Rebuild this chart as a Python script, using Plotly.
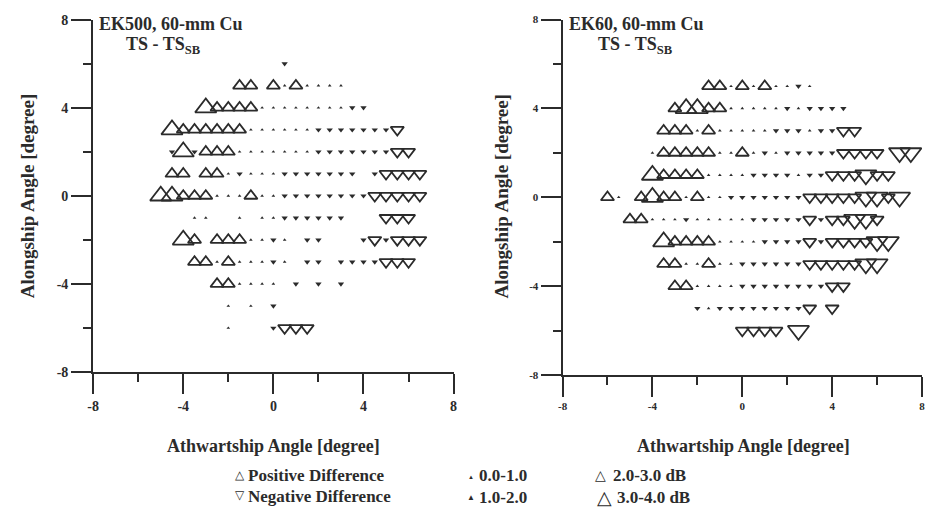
import plotly.graph_objects as go

W, H = 928, 517

# EK500, 60-mm Cu sphere: target position (athwartship x, alongship y, degrees)
# and TS - TS_SB difference (dB), one line per alongship row
ek500_x = [
    0.5,
    -1.5, -1, 0, 0.5, 1, 1.5, 2, 2.5, 3,
    -3, -2.5, -2, -1.5, -1, -0.5, 0, 0.5, 1, 1.5, 2, 2.5, 3, 3.5, 4,
    -4.5, -4, -3.5, -3, -2.5, -2, -1.5, -1, -0.5, 0, 0.5, 1, 1.5, 2, 2.5, 3, 3.5, 4, 4.5, 5, 5.5,
    -4.5, -4, -3.5, -3, -2.5, -2, -1.5, -1, -0.5, 0, 0.5, 1, 1.5, 2, 2.5, 3, 3.5, 4, 4.5, 5, 5.5, 6,
    -4.5, -4, -3, -2.5, -2, -1.5, -1, -0.5, 0, 0.5, 1, 1.5, 2, 2.5, 3, 3.5, 4.5, 5, 5.5, 6, 6.5,
    -5, -4.5, -4, -3.5, -3, -2.5, -2, -1.5, -1, -0.5, 0, 0.5, 1, 1.5, 2, 2.5, 3, 3.5, 4, 4.5, 5, 5.5, 6, 6.5,
    -3.5, -3, -1.5, -0.5, 0, 0.5, 1, 1.5, 2, 2.5, 3, 5, 5.5, 6,
    -4, -3.5, -2.5, -2, -1.5, -1, -0.5, 0, 0.5, 1.5, 2, 4, 4.5, 5, 5.5, 6, 6.5,
    -3.5, -3, -2.5, -2, -1.5, -1, -0.5, 0, 0.5, 1.5, 2, 3, 3.5, 4, 4.5, 5, 5.5, 6,
    -2.5, -2, -1.5, -1, -0.5, 0, 1, 2, 3,
    -2, -1, 0,
    -2, 0, 0.5, 1, 1.5,
]
ek500_y = [
    6,
    5, 5, 5, 5, 5, 5, 5, 5, 5,
    4, 4, 4, 4, 4, 4, 4, 4, 4, 4, 4, 4, 4, 4, 4,
    3, 3, 3, 3, 3, 3, 3, 3, 3, 3, 3, 3, 3, 3, 3, 3, 3, 3, 3, 3, 3,
    2, 2, 2, 2, 2, 2, 2, 2, 2, 2, 2, 2, 2, 2, 2, 2, 2, 2, 2, 2, 2, 2,
    1, 1, 1, 1, 1, 1, 1, 1, 1, 1, 1, 1, 1, 1, 1, 1, 1, 1, 1, 1, 1,
    0, 0, 0, 0, 0, 0, 0, 0, 0, 0, 0, 0, 0, 0, 0, 0, 0, 0, 0, 0, 0, 0, 0, 0,
    -1, -1, -1, -1, -1, -1, -1, -1, -1, -1, -1, -1, -1, -1,
    -2, -2, -2, -2, -2, -2, -2, -2, -2, -2, -2, -2, -2, -2, -2, -2, -2,
    -3, -3, -3, -3, -3, -3, -3, -3, -3, -3, -3, -3, -3, -3, -3, -3, -3, -3,
    -4, -4, -4, -4, -4, -4, -4, -4, -4,
    -5, -5, -5,
    -6, -6, -6, -6, -6,
]
ek500_diff = [
    -1.5,
    2.5, 2.5, 2.5, 0.5, 2.5, 0.5, 0.5, 0.5, 0.5,
    3.5, 2.5, 2.5, 2.5, 2.5, 0.5, 0.5, 0.5, 0.5, 0.5, 0.5, 0.5, 0.5, -1.5, -1.5,
    3.5, 2.5, 2.5, 2.5, 2.5, 2.5, 2.5, 0.5, 0.5, 0.5, 0.5, 0.5, 0.5, -1.5, -1.5, -1.5, -1.5, -1.5, -1.5, -1.5, -2.5,
    -1.5, 3.5, -1.5, 2.5, 2.5, 2.5, 0.5, 0.5, 0.5, 0.5, 0.5, 0.5, 0.5, -1.5, -1.5, -1.5, -1.5, -1.5, -1.5, -1.5, -2.5, -2.5,
    2.5, 2.5, 2.5, 2.5, 0.5, -1.5, 0.5, 0.5, 0.5, -1.5, -1.5, -1.5, -1.5, -1.5, -1.5, -1.5, -1.5, -2.5, -2.5, -2.5, -2.5,
    3.5, 3.5, 2.5, 2.5, 2.5, 0.5, 0.5, 0.5, 2.5, 0.5, 0.5, -1.5, -1.5, -1.5, -1.5, -1.5, -1.5, -1.5, -1.5, -2.5, -2.5, -2.5, -2.5, -2.5,
    0.5, 0.5, 0.5, 0.5, 0.5, -1.5, -1.5, -1.5, -1.5, -1.5, -1.5, -2.5, -2.5, -2.5,
    3.5, 2.5, 2.5, 2.5, 2.5, 0.5, 0.5, -1.5, 0.5, -1.5, -1.5, -1.5, -2.5, -1.5, -2.5, -2.5, -2.5,
    2.5, 2.5, 0.5, 2.5, 0.5, 0.5, 0.5, -1.5, 0.5, -1.5, -1.5, -1.5, -1.5, -1.5, -1.5, -2.5, -2.5, -2.5,
    2.5, 2.5, 0.5, 0.5, 0.5, 0.5, -1.5, -1.5, -1.5,
    0.5, 0.5, -1.5,
    0.5, -1.5, -2.5, -2.5, -2.5,
]

# EK60, 60-mm Cu sphere
ek60_x = [
    -1.5, -1, -0.5, 0, 0.5, 1, 1.5, 2, 2.5, 3,
    -3, -2.5, -2, -1.5, -1, -0.5, 0, 0.5, 1, 1.5, 2, 2.5, 3, 3.5, 4, 4.5,
    -3.5, -3, -2.5, -2, -1.5, -1, -0.5, 0, 0.5, 1, 1.5, 2, 2.5, 3, 3.5, 4, 4.5, 5,
    -4, -3.5, -3, -2.5, -2, -1.5, -1, -0.5, 0, 0.5, 1, 1.5, 2, 2.5, 3, 3.5, 4, 4.5, 5, 5.5, 6, 7, 7.5,
    -4, -3.5, -3, -2.5, -2, -1.5, -1, -0.5, 0, 0.5, 1, 1.5, 2, 2.5, 3, 3.5, 4, 4.5, 5, 5.5, 6, 6.5,
    -6, -5.5, -4.5, -4, -3.5, -3, -2.5, -2, -1.5, -1, -0.5, 0, 0.5, 1, 1.5, 2, 2.5, 3, 3.5, 4, 4.5, 5, 5.5, 6, 6.5, 7,
    -5, -4.5, -4, -3.5, -3, -2.5, -2, -1.5, -1, -0.5, 0, 0.5, 1, 1.5, 2, 2.5, 3, 3.5, 4, 4.5, 5, 5.5, 6,
    -3.5, -3, -2.5, -2, -1.5, -1, -0.5, 0, 0.5, 1, 1.5, 2, 2.5, 3, 3.5, 4, 4.5, 5, 5.5, 6, 6.5,
    -3.5, -3, -2.5, -2, -1.5, -1, -0.5, 0, 0.5, 1, 1.5, 2, 2.5, 3, 3.5, 4, 4.5, 5, 5.5, 6,
    -3, -2.5, -2, -1.5, -1, -0.5, 0, 0.5, 1, 1.5, 2, 2.5, 3, 3.5, 4, 4.5,
    -2, -1.5, -1, -0.5, 0, 0.5, 1, 1.5, 2, 2.5, 3, 4,
    0, 0.5, 1, 1.5, 2.5,
]
ek60_y = [
    5, 5, 5, 5, 5, 5, 5, 5, 5, 5,
    4, 4, 4, 4, 4, 4, 4, 4, 4, 4, 4, 4, 4, 4, 4, 4,
    3, 3, 3, 3, 3, 3, 3, 3, 3, 3, 3, 3, 3, 3, 3, 3, 3, 3,
    2, 2, 2, 2, 2, 2, 2, 2, 2, 2, 2, 2, 2, 2, 2, 2, 2, 2, 2, 2, 2, 2, 2,
    1, 1, 1, 1, 1, 1, 1, 1, 1, 1, 1, 1, 1, 1, 1, 1, 1, 1, 1, 1, 1, 1,
    0, 0, 0, 0, 0, 0, 0, 0, 0, 0, 0, 0, 0, 0, 0, 0, 0, 0, 0, 0, 0, 0, 0, 0, 0, 0,
    -1, -1, -1, -1, -1, -1, -1, -1, -1, -1, -1, -1, -1, -1, -1, -1, -1, -1, -1, -1, -1, -1, -1,
    -2, -2, -2, -2, -2, -2, -2, -2, -2, -2, -2, -2, -2, -2, -2, -2, -2, -2, -2, -2, -2,
    -3, -3, -3, -3, -3, -3, -3, -3, -3, -3, -3, -3, -3, -3, -3, -3, -3, -3, -3, -3,
    -4, -4, -4, -4, -4, -4, -4, -4, -4, -4, -4, -4, -4, -4, -4, -4,
    -5, -5, -5, -5, -5, -5, -5, -5, -5, -5, -5, -5,
    -6, -6, -6, -6, -6,
]
ek60_diff = [
    2.5, 2.5, 0.5, 2.5, 0.5, 2.5, 0.5, 0.5, -1.5, 0.5,
    2.5, 3.5, 3.5, 2.5, 2.5, 0.5, 0.5, 0.5, 0.5, 0.5, -1.5, 0.5, -1.5, -1.5, -1.5, -1.5,
    2.5, 2.5, 2.5, 0.5, 2.5, 0.5, 0.5, 0.5, 0.5, 0.5, -1.5, -1.5, -1.5, 0.5, -1.5, -1.5, -2.5, -2.5,
    0.5, 2.5, 2.5, 2.5, 2.5, 2.5, 0.5, 0.5, 2.5, 0.5, -1.5, 0.5, -1.5, -1.5, -1.5, -1.5, -1.5, -2.5, -2.5, -2.5, -2.5, -3.5, -3.5,
    3.5, 2.5, 2.5, 2.5, 2.5, 0.5, 0.5, 0.5, 0.5, -1.5, -1.5, -1.5, -1.5, 0.5, -1.5, -1.5, -2.5, -2.5, -2.5, -3.5, -2.5, -2.5,
    2.5, 0.5, 2.5, 3.5, 2.5, 2.5, 0.5, 2.5, 0.5, 0.5, -1.5, -1.5, -1.5, -1.5, -1.5, -1.5, -1.5, -2.5, -2.5, -2.5, -2.5, -2.5, -3.5, -3.5, -2.5, -3.5,
    2.5, 2.5, 0.5, 0.5, 0.5, -1.5, 0.5, 0.5, 0.5, 0.5, 0.5, -1.5, -1.5, -1.5, -1.5, -1.5, -2.5, -1.5, -2.5, -2.5, -3.5, -3.5, -2.5,
    3.5, 2.5, 2.5, 2.5, 2.5, 0.5, 0.5, 0.5, 0.5, -1.5, -1.5, -1.5, -1.5, -2.5, -1.5, -2.5, -2.5, -2.5, -2.5, -3.5, -3.5,
    2.5, 2.5, 0.5, 0.5, 2.5, 0.5, 0.5, -1.5, -1.5, -1.5, -1.5, -1.5, -1.5, -2.5, -2.5, -2.5, -2.5, -2.5, -3.5, -3.5,
    2.5, 2.5, 0.5, 0.5, 0.5, 0.5, -1.5, -1.5, -1.5, -1.5, -1.5, -1.5, -1.5, -1.5, -2.5, -2.5,
    -1.5, 0.5, -1.5, -1.5, -1.5, -1.5, -1.5, -1.5, -1.5, -1.5, -2.5, -2.5,
    -2.5, -2.5, -2.5, -2.5, -3.5,
]

axis_ticks = [-8, -4, 0, 4, 8]
panel_titles = ["EK500, 60-mm Cu", "EK60, 60-mm Cu"]
x_title = "Athwartship Angle [degree]"
y_title = "Alongship Angle [degree]"
key_sign = ["Positive Difference", "Negative Difference"]
key_range = ["0.0-1.0", "1.0-2.0", "2.0-3.0 dB", "3.0-4.0 dB"]

FONT = "Liberation Serif, Times New Roman, serif"
INK = "#2b2b2b"

# magnitude classes (dB): marker size, open outline or filled
classes = [
    (0.0, 1.0, 3.2, False),
    (1.0, 2.0, 5.5, False),
    (2.0, 3.0, 11.5, True),
    (3.0, 4.0, 18.5, True),
]

fig = go.Figure()


def add_panel(xs, ys, ds, xa, ya):
    for lo, hi, size, hollow in classes:
        for sign, shape in ((1, "triangle-up"), (-1, "triangle-down")):
            px, py = [], []
            for x, y, d in zip(xs, ys, ds):
                if d * sign > 0 and lo <= abs(d) < hi:
                    px.append(x)
                    py.append(y)
            if not px:
                continue
            fig.add_trace(go.Scatter(
                x=px, y=py, mode="markers", xaxis=xa, yaxis=ya,
                showlegend=False, hoverinfo="skip",
                marker=dict(
                    symbol=shape + ("-open" if hollow else ""),
                    size=size, color=INK,
                    line=dict(width=1.8 if hollow else 0, color=INK),
                ),
            ))


add_panel(ek500_x, ek500_y, ek500_diff, "x", "y")
add_panel(ek60_x, ek60_y, ek60_diff, "x2", "y2")


def axis_style(domain, anchor, lab_size):
    return dict(
        domain=domain, anchor=anchor, range=[-8, 8],
        tickmode="array", tickvals=axis_ticks,
        ticktext=[str(v) for v in axis_ticks],
        ticks="outside", ticklen=20, tickwidth=2, tickcolor=INK,
        minor=dict(tickmode="array", tickvals=[-6, -2, 2, 6],
                   ticks="outside", ticklen=8, tickwidth=2, tickcolor=INK),
        showline=True, linewidth=2, linecolor=INK, mirror=False,
        showgrid=False, zeroline=False,
        tickfont=dict(family=FONT, size=lab_size, color=INK, weight="bold"),
    )


L0, L1 = 88 / W, 452 / W
R0, R1 = 562 / W, 925 / W
T = 1 - 13 / H
BL = 1 - 376 / H
BR = 1 - 379 / H

fig.update_layout(
    width=W, height=H,
    margin=dict(l=0, r=0, t=0, b=0),
    paper_bgcolor="white", plot_bgcolor="white",
    xaxis=axis_style([L0, L1], "y", 14),
    yaxis=axis_style([BL, T], "x", 14),
    xaxis2=axis_style([R0, R1], "y2", 11),
    yaxis2=axis_style([BR, T], "x2", 11),
)


def note(text, px, py, size, xanchor="left", angle=0, bold=True):
    fig.add_annotation(
        text=text, xref="paper", yref="paper",
        x=px / W, y=1 - py / H, xanchor=xanchor, yanchor="middle",
        showarrow=False, textangle=angle, borderpad=0,
        font=dict(family=FONT, size=size, color=INK,
                  weight="bold" if bold else "normal"),
    )


# panel headings
note(panel_titles[0], 93, 17, 18)
note("TS - TS<sub>SB</sub>", 120, 40, 18)
note(panel_titles[1], 568, 17, 18)
note("TS - TS<sub>SB</sub>", 597, 40, 18)

# axis titles
note(x_title, 270, 452, 18, xanchor="center")
note(x_title, 745, 452, 18, xanchor="center")
note(y_title, 22, 195, 19, xanchor="center", angle=-90)
note(y_title, 500, 195, 19, xanchor="center", angle=-90)

# key: sign glyphs
note("△", 236, 482, 12, xanchor="center", bold=False)
note("▽", 236, 503, 12, xanchor="center", bold=False)
note(key_sign[0], 243, 482, 17)
note(key_sign[1], 243, 504, 17)
# key: magnitude glyphs
note("▲", 470, 484, 6, xanchor="center", bold=False)
note("▲", 470, 505, 8, xanchor="center", bold=False)
note(key_range[0], 477, 483, 17)
note(key_range[1], 477, 505, 17)
note("△", 600, 482, 14, xanchor="center", bold=False)
note("△", 604, 505, 19, xanchor="center", bold=False)
note(key_range[2], 612, 483, 17)
note(key_range[3], 616, 505, 17)

fig.write_html("out.html")
